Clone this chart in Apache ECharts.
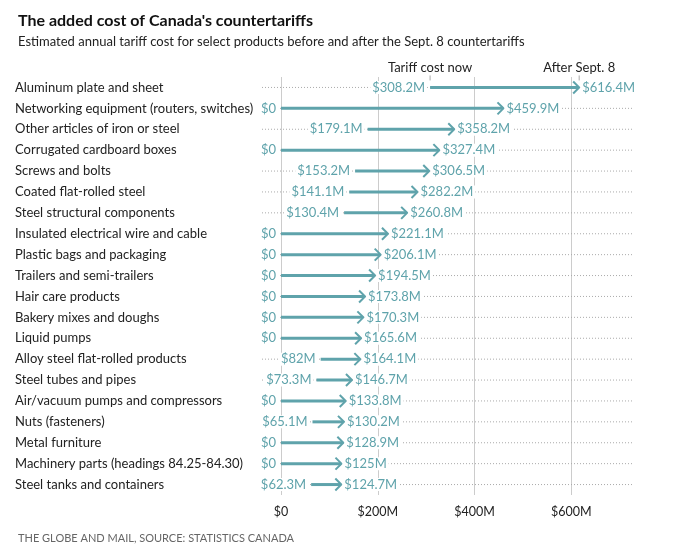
<!DOCTYPE html><html><head><meta charset="utf-8"><script src="https://cdn.jsdelivr.net/npm/echarts@6/dist/echarts.min.js"></script>
<style>body{margin:0}#c{width:680px;height:549px}</style></head><body><div id="c"></div><script>
const categories=["Aluminum plate and sheet","Networking equipment (routers, switches)","Other articles of iron or steel","Corrugated cardboard boxes","Screws and bolts","Coated flat-rolled steel","Steel structural components","Insulated electrical wire and cable","Plastic bags and packaging","Trailers and semi-trailers","Hair care products","Bakery mixes and doughs","Liquid pumps","Alloy steel flat-rolled products","Steel tubes and pipes","Air/vacuum pumps and compressors","Nuts (fasteners)","Metal furniture","Machinery parts (headings 84.25-84.30)","Steel tanks and containers"];
const nowValues=[308.2,0,179.1,0,153.2,141.1,130.4,0,0,0,0,0,0,82,73.3,0,65.1,0,0,62.3];
const afterValues=[616.4,459.9,358.2,327.4,306.5,282.2,260.8,221.1,206.1,194.5,173.8,170.3,165.6,164.1,146.7,133.8,130.2,128.9,125,124.7];
const xTicks=[0,200,400,600];
const fmt=v=>v===0?'$0':'$'+v+'M';
const C='#5fa3ab';
const data=categories.map((c,i)=>[nowValues[i],afterValues[i],c]);
const ch=echarts.init(document.getElementById('c'));
ch.setOption({
 animation:false,
 title:[{text:"The added cost of Canada's countertariffs",left:13,top:8,textStyle:{fontFamily:'Lato',fontSize:16,fontWeight:'bold',color:'#111'}},
 {text:"Estimated annual tariff cost for select products before and after the Sept. 8 countertariffs",left:13,top:30,textStyle:{fontFamily:'Lato',fontSize:13,fontWeight:'normal',color:'#222'}},
 {text:"THE GLOBE AND MAIL, SOURCE: STATISTICS CANADA",left:13,top:528,textStyle:{fontFamily:'Lato',fontSize:11,fontWeight:'normal',color:'#666'}}],
 grid:{left:281,right:12,top:77,bottom:54},
 xAxis:{type:'value',min:0,max:800,interval:200,position:'bottom',axisLine:{show:false},axisTick:{show:false},
  splitLine:{showMaxLine:false,lineStyle:{color:'#ccc'}},axisLabel:{formatter:v=>xTicks.includes(v)?fmt(v):'',color:'#222',fontFamily:'Lato',fontSize:12.5,margin:10,showMaxLabel:false}},
 yAxis:{type:'category',data:categories,inverse:true,axisLine:{show:false},axisTick:{show:false},
  axisLabel:{align:'left',margin:266,color:'#222',fontFamily:'Lato',fontSize:13}},
 series:[{type:'custom',data:data,encode:{x:[0,1],y:2},clip:false,renderItem:(p,api)=>{
  const s=api.coord([api.value(0),p.dataIndex]);const e=api.coord([api.value(1),p.dataIndex]);
  const y=s[1];const ch=[];
  ch.push({type:'line',shape:{x1:262,y1:y,x2:633,y2:y},style:{stroke:'#aaa',lineWidth:1,lineDash:[1,2]},z2:0});
  ch.push({type:'line',shape:{x1:s[0],y1:y,x2:e[0]-1,y2:y},style:{stroke:C,lineWidth:3},z2:2});
  ch.push({type:'polyline',shape:{points:[[e[0]-6,y-6],[e[0],y],[e[0]-6,y+6]]},style:{stroke:C,lineWidth:2,fill:null},z2:2});
  ch.push({type:'text',x:s[0]-3,y:y,style:{text:fmt(api.value(0)),fill:C,font:'13px Lato',align:'right',verticalAlign:'middle',backgroundColor:'#fff',padding:[0,2]},z2:3});
  ch.push({type:'text',x:e[0]+1,y:y,style:{text:fmt(api.value(1)),fill:C,font:'13px Lato',align:'left',verticalAlign:'middle',backgroundColor:'#fff',padding:[0,2]},z2:3});
  if(p.dataIndex===0){
   ch.push({type:'line',shape:{x1:s[0],y1:y-12,x2:s[0],y2:y-7},style:{stroke:'#aaa',lineWidth:1}});
   ch.push({type:'line',shape:{x1:e[0],y1:y-12,x2:e[0],y2:y-7},style:{stroke:'#aaa',lineWidth:1}});
   ch.push({type:'text',x:s[0],y:y-13,style:{text:'Tariff cost now',fill:'#222',font:'13px Lato',align:'center',verticalAlign:'bottom',backgroundColor:'#fff'}});
   ch.push({type:'text',x:e[0],y:y-13,style:{text:'After Sept. 8',fill:'#222',font:'13px Lato',align:'center',verticalAlign:'bottom',backgroundColor:'#fff'}});
  }
  return {type:'group',children:ch};
 }}]
});
</script></body></html>
